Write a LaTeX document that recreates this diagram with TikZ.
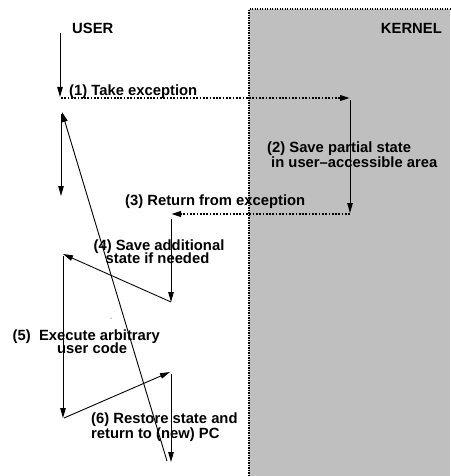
\documentclass[tikz,border=0pt]{standalone}
\usepackage{fontspec}
\setmainfont{Liberation Sans}
\usetikzlibrary{arrows.meta}
\begin{document}
\begin{tikzpicture}[x=1pt,y=-1pt,
  lbl/.style={font=\bfseries\fontsize{14.8}{15}\selectfont,inner sep=0pt,anchor=base west},
  lblc/.style={font=\bfseries\fontsize{14.8}{15}\selectfont,inner sep=0pt,anchor=base},
  flow/.style={line width=0.9pt,-{Triangle[length=10pt,width=5.5pt]}},
  dotflow/.style={line width=2pt,dash pattern=on 1.7pt off 1.6pt,-{Triangle[length=10pt,width=5.5pt]}},
  border/.style={line width=1.1pt,dash pattern=on 1.1pt off 1.4pt}]
\useasboundingbox (0,0) rectangle (450,476);
\fill[fill={rgb,255:red,191;green,191;blue,191}] (249,9) rectangle (450,476);
\draw[border] (249,476) -- (249,9) -- (450,9);
% labels
\node[lbl] (user) at (72,34) {USER};
\node[lbl,anchor=base east] (kernel) at (442,34) {KERNEL};
\node[lbl] (l1) at (69,95.5) {(1) Take exception};
\node[lbl] (l2a) at (267,152.5) {(2) Save partial state};
\node[lbl] (l2b) at (271,167) {in user\textendash accessible area};
\node[lbl] (l3) at (125,205) {(3) Return from exception};
\node[lblc] (l4a) at (159,250) {(4) Save additional};
\node[lblc] (l4b) at (157.5,263.5) {state if needed};
\node[lbl] (l5a) at (12.5,340) {(5)\ \ Execute arbitrary};
\node[lbl] (l5b) at (57,353.5) {user code};
\node[lbl] (l6a) at (91,423.5) {(6) Restore state and};
\node[lbl] (l6b) at (91,438.5) {return to (new) PC};
% points
\coordinate (s0) at (60,33);
\coordinate (e0) at (60,97);
\coordinate (p1) at (61,98);
\coordinate (k1) at (350,98);
\coordinate (k1b) at (350,100);
\coordinate (k2) at (350,213);
\coordinate (k2b) at (350,214);
\coordinate (u3) at (171,214);
\coordinate (u3b) at (171,219);
\coordinate (u4) at (171,302);
\coordinate (u5) at (63,254);
\coordinate (u5b) at (63,256);
\coordinate (u6) at (63,418);
\coordinate (u6b) at (64,418);
\coordinate (u7) at (170,372);
\coordinate (u7b) at (171,374);
\coordinate (u8) at (171,462);
\coordinate (d0) at (167,461);
\coordinate (d1) at (62,112);
\coordinate (v0) at (61,114);
\coordinate (v1) at (61,196);
\coordinate (dot) at (111,318);
% connectors
\draw[flow] (s0) -- (e0);
\draw[dotflow] (p1) -- (k1);
\draw[flow] (k1b) -- (k2);
\draw[dotflow] (k2b) -- (u3);
\draw[flow] (u3b) -- (u4);
\draw[flow] (u4) -- (u5);
\draw[flow] (u5b) -- (u6);
\draw[flow] (u6b) -- (u7);
\draw[flow] (u7b) -- (u8);
\draw[flow] (d0) -- (d1);
\draw[flow] (v0) -- (v1);
\fill (dot) circle (0.5pt);
\end{tikzpicture}
\end{document}
